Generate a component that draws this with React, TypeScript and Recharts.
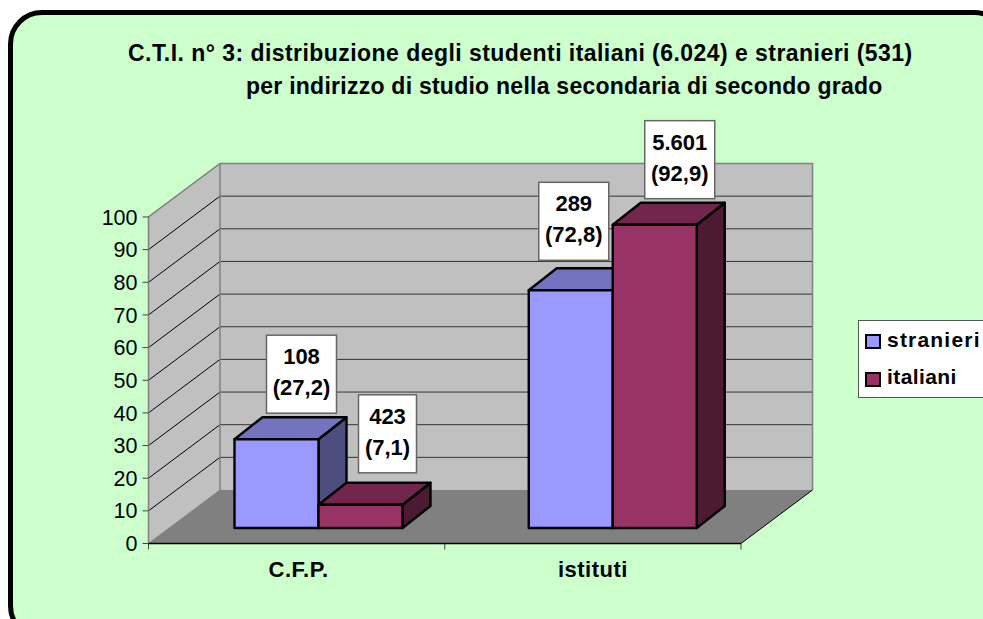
import {
  Bar,
  BarChart,
  LabelList,
  Legend,
  ReferenceArea,
  XAxis,
  YAxis,
} from "recharts";

const categories = ["C.F.P.", "istituti"];
const stranieriPct = [27.2, 72.8];
const italianiPct = [7.1, 92.9];
const stranieriCount = ["108", "289"];
const italianiCount = ["423", "5.601"];
const yTicks = [0, 10, 20, 30, 40, 50, 60, 70, 80, 90, 100];
const titleLines = [
  "C.T.I. n° 3: distribuzione degli studenti italiani (6.024) e stranieri (531)",
  "per indirizzo di studio nella secondaria di secondo grado",
];

const chartData = categories.map((name, i) => ({
  name,
  stranieri: stranieriPct[i],
  italiani: italianiPct[i],
}));

const WIDTH = 983;
const HEIGHT = 619;
const PLOT_LEFT = 148.5;
const PLOT_RIGHT = 741;
// depth of the fake 3d box, and of the bars standing inside it
const WALL_DX = 71.5;
const WALL_DY = -53.5;
const BAR_SHIFT_X = 21;
const BAR_SHIFT_Y = -15.5;
const BAR_DX = 28;
const BAR_DY = -22;

function Walls({ y, height }: any) {
  const bottom = y + height;
  const l = PLOT_LEFT;
  const r = PLOT_RIGHT;
  const catWidth = (r - l) / categories.length;
  return (
    <g>
      <polygon
        points={`${l},${bottom} ${l},${y} ${l + WALL_DX},${y + WALL_DY} ${l + WALL_DX},${bottom + WALL_DY}`}
        fill="#c0c0c0"
      />
      <rect
        x={l + WALL_DX}
        y={y + WALL_DY}
        width={r - l}
        height={height}
        fill="#c0c0c0"
      />
      <polygon
        points={`${l},${bottom} ${r},${bottom} ${r + WALL_DX},${bottom + WALL_DY} ${l + WALL_DX},${bottom + WALL_DY}`}
        fill="#808080"
      />
      {yTicks.slice(1, -1).map((t) => {
        const ty = bottom - (height * t) / 100;
        return (
          <g key={t}>
            <line x1={l} y1={ty} x2={l + WALL_DX} y2={ty + WALL_DY} stroke="#000" strokeWidth={1} />
            <line x1={l + WALL_DX} y1={ty + WALL_DY} x2={r + WALL_DX} y2={ty + WALL_DY} stroke="#333" strokeWidth={1} />
          </g>
        );
      })}
      <path
        d={`M${l},${bottom} L${l},${y} L${l + WALL_DX},${y + WALL_DY} L${r + WALL_DX},${y + WALL_DY} L${r + WALL_DX},${bottom + WALL_DY}`}
        fill="none"
        stroke="#808080"
        strokeWidth={1.5}
      />
      <line x1={l + WALL_DX} y1={y + WALL_DY} x2={l + WALL_DX} y2={bottom + WALL_DY} stroke="#808080" strokeWidth={1.5} />
      <line x1={l} y1={bottom} x2={l + WALL_DX} y2={bottom + WALL_DY} stroke="#808080" strokeWidth={1} />
      <line x1={r} y1={bottom} x2={r + WALL_DX} y2={bottom + WALL_DY} stroke="#000" strokeWidth={1} />
      {categories.concat("").map((_, i) => (
        <line
          key={i}
          x1={l + catWidth * i}
          y1={bottom}
          x2={l + catWidth * i}
          y2={bottom + 6}
          stroke="#444"
          strokeWidth={1}
        />
      ))}
    </g>
  );
}

function Bar3D({ x, y, width, height, fill, topFill, sideFill }: any) {
  const fx = x + BAR_SHIFT_X;
  const fy = y + BAR_SHIFT_Y;
  const common = { stroke: "#000", strokeWidth: 2.4, strokeLinejoin: "round" as const };
  return (
    <g>
      <polygon
        points={`${fx + width},${fy} ${fx + width + BAR_DX},${fy + BAR_DY} ${fx + width + BAR_DX},${fy + height + BAR_DY} ${fx + width},${fy + height}`}
        fill={sideFill}
        {...common}
      />
      <polygon
        points={`${fx},${fy} ${fx + BAR_DX},${fy + BAR_DY} ${fx + width + BAR_DX},${fy + BAR_DY} ${fx + width},${fy}`}
        fill={topFill}
        {...common}
      />
      <rect x={fx} y={fy} width={width} height={height} fill={fill} {...common} />
    </g>
  );
}

// where each hand placed label box sits against the front top left corner of its bar
const stranieriBoxOffset = [
  { dx: 32, dy: -104, w: 70 },
  { dx: 10, dy: -108, w: 70 },
];
const italianiBoxOffset = [
  { dx: 40, dy: -110, w: 58 },
  { dx: 32, dy: -104, w: 70 },
];

function makeBoxLabel(counts: string[], pcts: number[], offsets: any[]) {
  return function BoxLabel({ x, y, index }: any) {
    const off = offsets[index];
    const left = x + BAR_SHIFT_X + off.dx;
    const top = y + BAR_SHIFT_Y + off.dy;
    const cx = left + off.w / 2;
    return (
      <g>
        <rect x={left} y={top} width={off.w} height={78} fill="#fff" stroke="#666" strokeWidth={1.5} />
        <text x={cx} y={top + 29} textAnchor="middle" fontFamily="Liberation Sans" fontWeight="bold" fontSize={22} fill="#000">
          {counts[index]}
        </text>
        <text x={cx} y={top + 60} textAnchor="middle" fontFamily="Liberation Sans" fontWeight="bold" fontSize={22} fill="#000">
          ({String(pcts[index]).replace(".", ",")})
        </text>
      </g>
    );
  };
}

function CategoryTick({ x, y, payload }: any) {
  return (
    <text x={x + 1} y={y + 25} textAnchor="middle" fontFamily="Liberation Sans" fontWeight="bold" fontSize={22} letterSpacing={0.5} fill="#000">
      {payload.value}
    </text>
  );
}

function LegendBox({ payload }: any) {
  const spacing: Record<string, number> = { stranieri: 1.2, italiani: 0.4 };
  return (
    <div
      style={{
        width: 140,
        height: 78,
        boxSizing: "border-box",
        background: "#fff",
        border: "1px solid #555",
        position: "relative",
      }}
    >
      {(payload || []).map((p: any, i: number) => (
        <div key={p.value}>
          <div
            style={{
              position: "absolute",
              left: 6,
              top: 13 + i * 38,
              width: 16,
              height: 15,
              boxSizing: "border-box",
              background: p.color,
              border: "2px solid #000",
            }}
          />
          <span
            style={{
              position: "absolute",
              left: 28,
              top: 7 + i * 37,
              fontFamily: "Liberation Sans",
              fontWeight: "bold",
              fontSize: 21,
              lineHeight: "24px",
              letterSpacing: spacing[p.value],
              color: "#000",
              whiteSpace: "nowrap",
            }}
          >
            {p.value}
          </span>
        </div>
      ))}
    </div>
  );
}

export default function App() {
  return (
    <div
      style={{
        position: "fixed",
        left: 0,
        top: 0,
        width: WIDTH,
        height: HEIGHT,
        overflow: "hidden",
        background: "#fff",
      }}
    >
      <div
        style={{
          position: "absolute",
          left: 8,
          top: 10,
          width: 1000,
          height: 630,
          boxSizing: "border-box",
          background: "#ccffcc",
          border: "5px solid #000",
          borderRadius: 34,
        }}
      />
      <div
        style={{
          position: "absolute",
          left: 128,
          top: 37,
          fontFamily: "Liberation Sans",
          fontWeight: "bold",
          fontSize: 23,
          lineHeight: "33px",
          color: "#000",
          whiteSpace: "nowrap",
        }}
      >
        <div style={{ letterSpacing: 0.45 }}>{titleLines[0]}</div>
        <div style={{ marginLeft: 118, letterSpacing: 0.25 }}>{titleLines[1]}</div>
      </div>
      <div style={{ position: "absolute", left: 0, top: 0 }}>
        <BarChart
          width={WIDTH}
          height={HEIGHT}
          data={chartData}
          barGap={0}
          barCategoryGap={63}
          margin={{ top: 217, right: WIDTH - PLOT_RIGHT, left: 0, bottom: 45.5 }}
        >
          <XAxis
            dataKey="name"
            height={30}
            padding={{ left: 2, right: 2 }}
            tickLine={false}
            axisLine={{ stroke: "#000", strokeWidth: 1.5 }}
            tick={CategoryTick}
            interval={0}
          />
          <YAxis
            width={PLOT_LEFT}
            domain={[0, 100]}
            ticks={yTicks}
            interval={0}
            axisLine={false}
            tickLine={{ stroke: "#444" }}
            tickSize={6}
            tickMargin={5}
            tick={{ fontFamily: "Liberation Sans", fontSize: 21.5, fill: "#000" }}
          />
          <ReferenceArea y1={0} y2={100} shape={Walls} ifOverflow="visible" />
          <Legend
            layout="vertical"
            align="center"
            verticalAlign="middle"
            itemSorter={null}
            content={LegendBox}
            wrapperStyle={{ left: 858, top: 320, width: 140, height: 78 }}
          />
          <Bar
            dataKey="stranieri"
            name="stranieri"
            fill="#9999ff"
            isAnimationActive={false}
            shape={(p: any) => <Bar3D {...p} topFill="#7373bf" sideFill="#4d4d80" />}
          >
            <LabelList
              dataKey="stranieri"
              content={makeBoxLabel(stranieriCount, stranieriPct, stranieriBoxOffset)}
            />
          </Bar>
          <Bar
            dataKey="italiani"
            name="italiani"
            fill="#993366"
            isAnimationActive={false}
            shape={(p: any) => <Bar3D {...p} topFill="#73264d" sideFill="#4d1a33" />}
          >
            <LabelList
              dataKey="italiani"
              content={makeBoxLabel(italianiCount, italianiPct, italianiBoxOffset)}
            />
          </Bar>
        </BarChart>
      </div>
    </div>
  );
}
